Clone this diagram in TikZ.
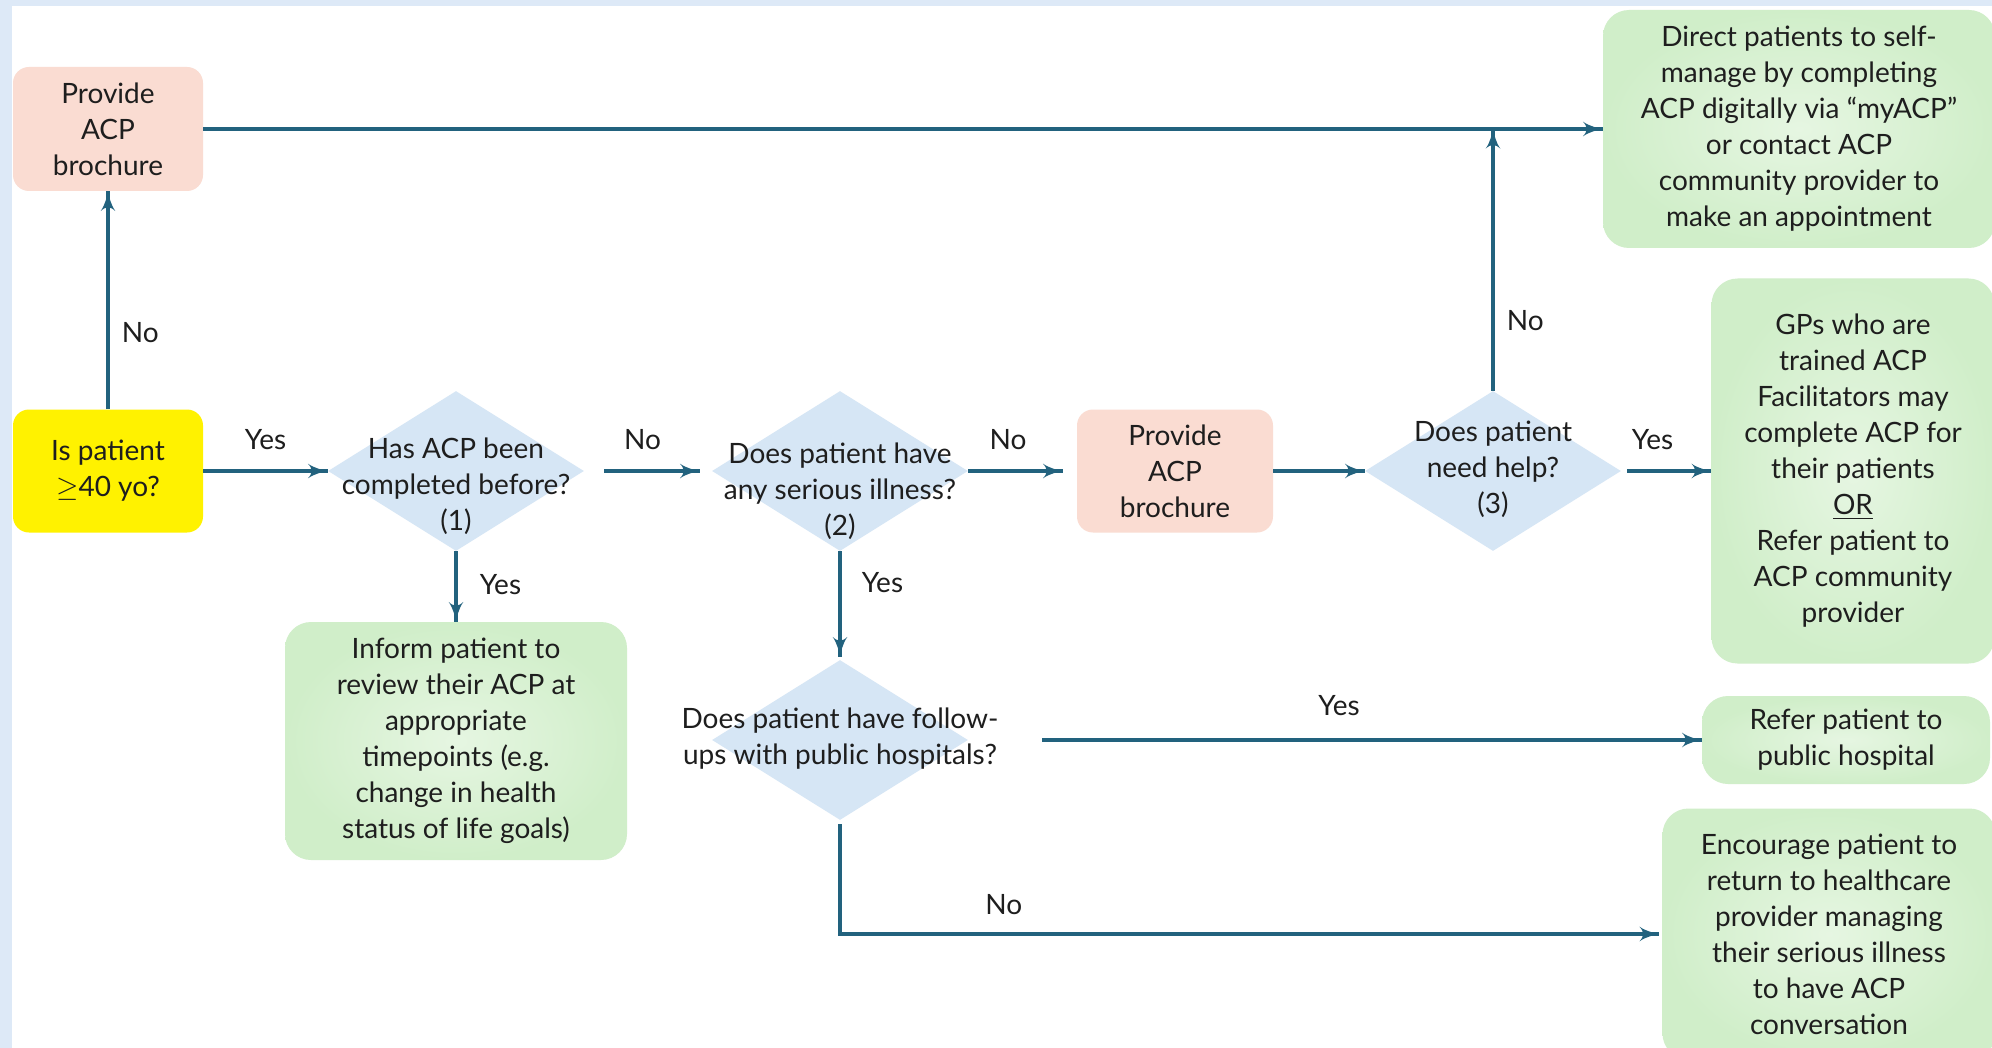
\documentclass[tikz,border=0pt]{standalone}
\usepackage{fontspec}
\setmainfont{Lato}
\usepackage{tikz}
\usetikzlibrary{arrows}
\usetikzlibrary{decorations.markings}
\usetikzlibrary{positioning}
\usetikzlibrary{shapes.geometric}
\definecolor{frameblue}{HTML}{DDE9F7}
\definecolor{flowline}{HTML}{22627E}
\definecolor{peach}{HTML}{FADCD2}
\definecolor{diablue}{HTML}{D6E6F5}
\definecolor{leafgreen}{HTML}{D0EEC9}
\definecolor{leaflight}{HTML}{E6F6E2}
\definecolor{ink}{HTML}{1E1E1E}
\tikzset{->/.style = {decoration={markings,
                                  mark=at position 1 with {\arrow[scale=1.2]{latex'}}},
                      postaction={decorate}}}
\tikzset{flow/.style = {color = flowline, line width = 1.8pt, every node/.append style = {text = ink}}}
\tikzset{lbl/.style = {inner sep = 0, text height = 10.5pt, text depth = 3pt}}
\tikzset{brochure/.style = {fill = peach, rounded corners = 8pt, align = center, inner sep = 0}}
\tikzset{outcome/.style = {shade, inner color = leaflight, outer color = leafgreen, rounded corners = 13pt, align = center, inner sep = 0}}
\tikzset{query/.style = {diamond, fill = diablue, inner sep = 0, minimum width = 128pt, minimum height = 80pt}}
\tikzset{qtext/.style = {align = center, inner sep = 0}}

\begin{document}
\begin{tikzpicture}[x = 0.5pt, y = -0.5pt, font = \fontsize{14}{18}\selectfont, text = ink]
      \useasboundingbox (0, 0) rectangle (1992, 1048);
      \clip (0, 0) rectangle (1992, 1048);
      \fill [frameblue] (0, 0) rectangle (1992, 1048);
      \fill [white] (12, 6) rectangle (1992, 1048);
      \node [brochure, minimum width = 95pt, minimum height = 62pt] (brochureA) at (108, 129) {Provide\\ACP\\brochure};
      \node [fill = yellow, rounded corners = 8pt, align = center, inner sep = 0, minimum width = 95pt, minimum height = 61.5pt] (start) at (108, 471) {Is patient\\$\geq$40 yo?};
      \node [query] (q1) at (456, 471) {};
      \node [qtext] (q1text) at (456, 486) {Has ACP been\\completed before?\\(1)};
      \node [query] (q2) at (840, 471) {};
      \node [qtext] (q2text) at (840, 491) {Does patient have\\any serious illness?\\(2)};
      \node [brochure, minimum width = 98pt, minimum height = 61.5pt] (brochureB) at (1175, 471) {Provide\\ACP\\brochure};
      \node [query] (q3) at (1493, 471) {};
      \node [qtext] (q3text) at (1493, 469) {Does patient\\need help?\\(3)};
      \node [query] (q4) at (840, 740) {};
      \node [qtext] (q4text) at (840, 739) {Does patient have follow-\\ups with public hospitals?};
      \node [outcome, minimum width = 196pt, minimum height = 119pt] (direct) at (1799, 129) {Direct patients to self-\\manage by completing\\ACP digitally via “myACP”\\or contact ACP\\community provider to\\make an appointment};
      \node [outcome, minimum width = 141.5pt, minimum height = 192.5pt] (gps) at (1853, 471) {GPs who are\\trained ACP\\Facilitators may\\complete ACP for\\their patients\\\underline{OR}\\Refer patient to\\ACP community\\provider};
      \node [outcome, minimum width = 171pt, minimum height = 119pt] (inform) at (456, 741) {Inform patient to\\review their ACP at\\appropriate\\timepoints (e.g.\\change in health\\status of life goals)};
      \node [outcome, minimum width = 144pt, minimum height = 44pt] (refer) at (1846, 740) {Refer patient to\\public hospital};
      \node [outcome, minimum width = 166.5pt, minimum height = 125.5pt] (encourage) at (1829, 934) {Encourage patient to\\return to healthcare\\provider managing\\their serious illness\\to have ACP\\conversation};
      \draw [flow, ->] (start) -- (brochureA) node [lbl, right = 6pt, pos = 0.34] {No};
      \draw [flow, ->] (brochureA) -- (direct);
      \draw [flow, ->] (start) -- (q1) node [lbl, above = 7pt, pos = 0.5] {Yes};
      \draw [flow, ->] ([xshift = 10pt]q1.east) -- ([xshift = -6pt]q2.west) node [lbl, above = 7pt, pos = 0.4] {No};
      \draw [flow, ->] (q2) -- ([xshift = -7pt]brochureB.west) node [lbl, above = 7pt, pos = 0.42] {No};
      \draw [flow, ->] (brochureB) -- (q3);
      \draw [flow, ->] ([xshift = 3pt]q3.east) -- (gps) node [lbl, above = 7pt, pos = 0.3] {Yes};
      \draw [flow, ->] (q3) -- (q3 |- brochureA) node [lbl, right = 6pt, pos = 0.26] {No};
      \draw [flow, ->] (q1) -- (inform) node [lbl, right = 11pt, pos = 0.5] {Yes};
      \draw [flow, ->] (q2) -- ([yshift = 1.5pt]q4.north) node [lbl, right = 10pt, pos = 0.32] {Yes};
      \draw [flow, ->] ([xshift = 37pt]q4.east) -- (refer) node [lbl, above = 8.5pt, pos = 0.45] {Yes};
      \draw [flow, ->] ([yshift = -2pt]q4.south) |- ([xshift = -1.5pt]encourage.west) node [lbl, above = 6pt, pos = 0.6] {No};
\end{tikzpicture}
\end{document}
